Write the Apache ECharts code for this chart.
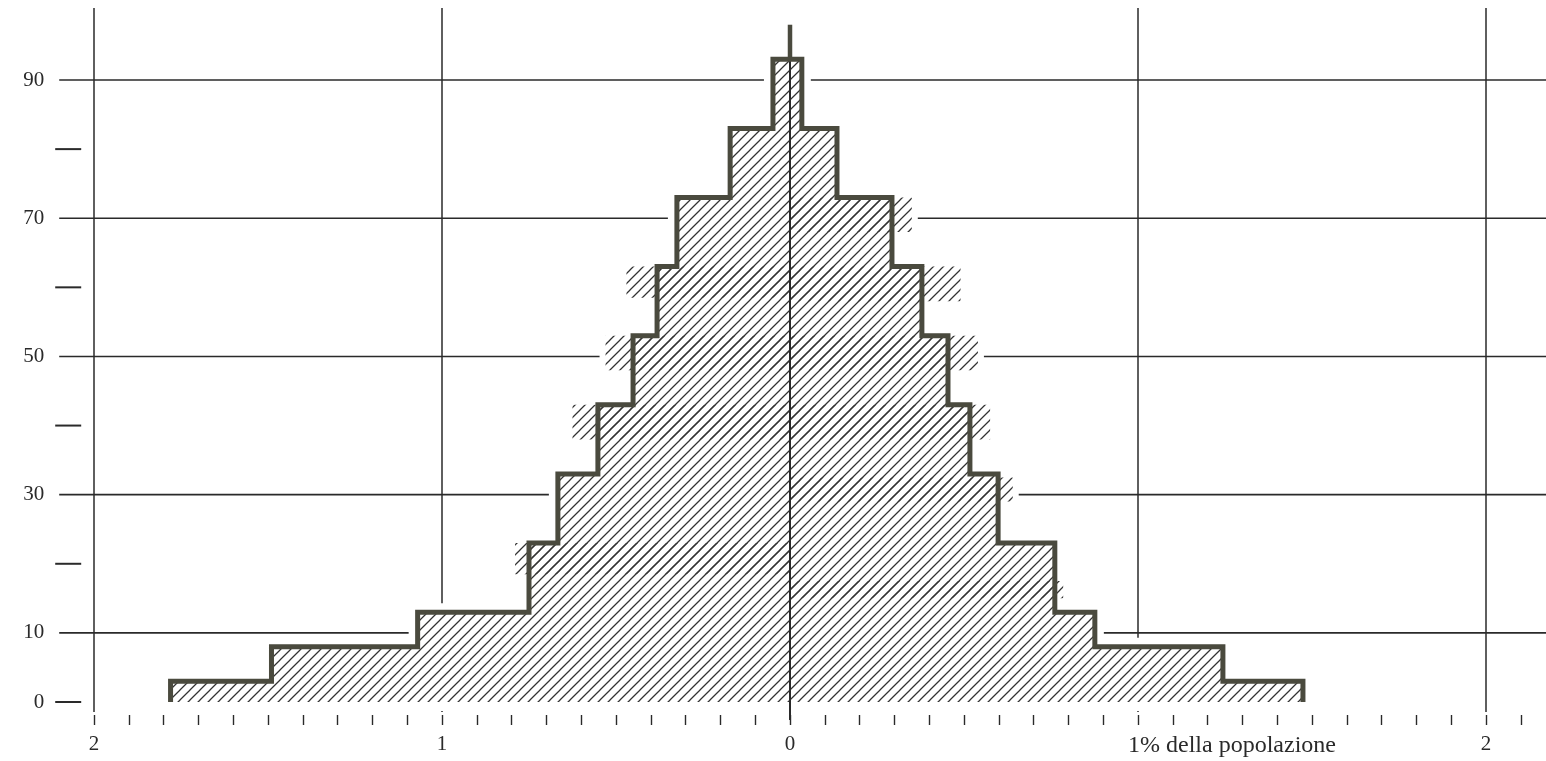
<!DOCTYPE html>
<html><head><meta charset="utf-8">
<script src="https://cdn.jsdelivr.net/npm/echarts@6/dist/echarts.min.js"></script>
<style>html,body{margin:0;padding:0;background:#fff}#c{width:1546px;height:761px}</style>
</head><body><div id="c"></div>
<script>
// Age band boundaries (years)
const ageEdges = [0, 3, 8, 13, 23, 33, 43, 53, 63, 73, 83, 93];
// Percent of population in each band, left and right of the centre
const leftPct  = [1.78, 1.49, 1.07, 0.75, 0.667, 0.552, 0.451, 0.382, 0.325, 0.172, 0.049];
const rightPct = [1.474, 1.244, 0.876, 0.761, 0.598, 0.517, 0.454, 0.379, 0.293, 0.135, 0.034];
// Age reached by the central spike
const spikeTop = 98;
// Extra hatched excess beyond the stepped outline
const leftExcessFrom  = [18.5, 38, 48, 58.5];
const leftExcessTo    = [23, 43, 53, 63];
const leftExcessPct   = [0.79, 0.625, 0.53, 0.47];
const rightExcessFrom = [15, 29, 38, 48, 58, 68];
const rightExcessTo   = [17.5, 32.5, 43, 53, 63, 73];
const rightExcessPct  = [0.785, 0.64, 0.575, 0.54, 0.49, 0.35];
// Axes
const yLabelValues = [0, 10, 30, 50, 70, 90];
const yDashValues  = [0, 20, 40, 60, 80];
const gridAges     = [10, 30, 50, 70, 90];
const gridPcts     = [-2, -1, 1, 2];
const xLabelValues = [-2, -1, 0, 1, 2];
const xLabelTexts  = ['2', '1', '0', '1% della popolazione', '2'];

const INK = '#2a2a2a';
const OUTLINE = '#4a4a3e';
const SERIF = '"Liberation Serif", "DejaVu Serif", serif';

function makeHatch() {
  const c = document.createElement('canvas');
  c.width = 10; c.height = 10;
  const g = c.getContext('2d');
  g.strokeStyle = '#333333';
  g.lineWidth = 1.25;
  g.beginPath();
  g.moveTo(-2, 12); g.lineTo(12, -2);
  g.moveTo(-7, 7); g.lineTo(7, -7);
  g.moveTo(3, 17); g.lineTo(17, 3);
  g.stroke();
  return c;
}
const hatch = { image: makeHatch(), repeat: 'repeat' };

function outlinePoints(api) {
  const pts = [];
  const n = leftPct.length;
  pts.push(api.coord([-leftPct[0], ageEdges[0]]));
  for (let i = 0; i < n; i++) {
    pts.push(api.coord([-leftPct[i], ageEdges[i + 1]]));
    if (i + 1 < n) pts.push(api.coord([-leftPct[i + 1], ageEdges[i + 1]]));
  }
  pts.push(api.coord([rightPct[n - 1], ageEdges[n]]));
  for (let i = n - 1; i >= 0; i--) {
    pts.push(api.coord([rightPct[i], ageEdges[i]]));
    if (i > 0) pts.push(api.coord([rightPct[i - 1], ageEdges[i]]));
  }
  return pts;
}
function excessRects(api) {
  const rects = [];
  const mk = (x0, x1, a0, a1) => {
    const p0 = api.coord([x0, a1]);
    const p1 = api.coord([x1, a0]);
    return { x: Math.min(p0[0], p1[0]), y: Math.min(p0[1], p1[1]),
             width: Math.abs(p1[0] - p0[0]), height: Math.abs(p1[1] - p0[1]) };
  };
  for (let i = 0; i < leftExcessPct.length; i++)
    rects.push(mk(-leftExcessPct[i], 0, leftExcessFrom[i], leftExcessTo[i]));
  for (let i = 0; i < rightExcessPct.length; i++)
    rects.push(mk(0, rightExcessPct[i], rightExcessFrom[i], rightExcessTo[i]));
  return rects;
}

const chart = echarts.init(document.getElementById('c'), null, { renderer: 'canvas' });
const scale = 348; // px per 1 %
const zeroX = 790;
const option = {
  animation: false,
  backgroundColor: '#fff',
  grid: [
    { left: zeroX - 2.1 * scale, right: 1546 - (zeroX + 2.2 * scale), top: 702 - 100 * 6.911, bottom: 59, containLabel: false, outerBoundsMode: 'none' },
    { left: zeroX - 2.0 * scale, width: 4.1 * scale, top: 702 - 100 * 6.911, bottom: 46, containLabel: false, outerBoundsMode: 'none' }
  ],
  xAxis: [
    { type: 'value', gridIndex: 0, min: -2.1, max: 2.2, show: false },
    {
      type: 'value', gridIndex: 1, min: -2, max: 2.1, interval: 0.1, position: 'bottom',
      axisLine: { show: false },
      axisTick: { show: true, inside: false, length: 10, lineStyle: { color: INK, width: 1.4 } },
      splitLine: { show: false },
      axisLabel: {
        margin: 19, color: INK, fontFamily: SERIF, fontSize: 21,
        formatter: function (v) {
          const r = Math.round(v * 10) / 10;
          const i = xLabelValues.indexOf(r);
          if (i < 0) return '';
          const t = xLabelTexts[i];
          if (t.length > 2) return '{pad|}{t|' + t + '}';
          return t;
        },
        rich: {
          pad: { width: 188 },
          t: { fontFamily: SERIF, fontSize: 24, color: INK }
        }
      }
    }
  ],
  yAxis: [
    {
      type: 'value', gridIndex: 0, min: 0, max: 100, interval: 10,
      axisLine: { show: false }, axisTick: { show: false }, splitLine: { show: false },
      axisLabel: {
        margin: 15, color: INK, fontFamily: SERIF, fontSize: 21,
        formatter: v => yLabelValues.indexOf(v) >= 0 ? String(v) : ''
      }
    },
    { type: 'value', gridIndex: 1, min: 0, max: 100, show: false }
  ],
  series: [
    {
      type: 'custom', name: 'grid', z: 1, silent: true, data: [0],
      renderItem: function (params, api) {
        const cs = params.coordSys;
        const children = [];
        gridAges.forEach(a => {
          const y = api.coord([0, a])[1];
          children.push({ type: 'line', shape: { x1: cs.x, y1: y, x2: cs.x + cs.width, y2: y },
            style: { stroke: INK, lineWidth: 1.6 } });
        });
        gridPcts.forEach(p => {
          const x = api.coord([p, 0])[0];
          const yb = api.coord([p, 0])[1];
          children.push({ type: 'line', shape: { x1: x, y1: cs.y - 3, x2: x, y2: yb + 10 },
            style: { stroke: INK, lineWidth: 1.5 } });
        });
        yDashValues.forEach(a => {
          const y = api.coord([0, a])[1];
          children.push({ type: 'line', shape: { x1: cs.x - 4, y1: y, x2: cs.x + 22, y2: y },
            style: { stroke: INK, lineWidth: 2 } });
        });
        return { type: 'group', children };
      }
    },
    {
      type: 'custom', name: 'halo', z: 2, silent: true, data: [0],
      renderItem: function (params, api) {
        const children = [{ type: 'polygon', shape: { points: outlinePoints(api) },
          style: { fill: '#fff', stroke: '#fff', lineWidth: 18, lineJoin: 'miter' } }];
        excessRects(api).forEach(r => children.push({ type: 'rect', shape: r,
          style: { fill: '#fff', stroke: '#fff', lineWidth: 12 } }));
        return { type: 'group', children };
      }
    },
    {
      type: 'custom', name: 'hatch', z: 3, silent: true, data: [0],
      renderItem: function (params, api) {
        const children = [{ type: 'polygon', shape: { points: outlinePoints(api) },
          style: { fill: hatch } }];
        excessRects(api).forEach(r => children.push({ type: 'rect', shape: r, style: { fill: hatch } }));
        return { type: 'group', children };
      }
    },
    {
      type: 'custom', name: 'outline', z: 4, silent: true, data: [0],
      renderItem: function (params, api) {
        const n = ageEdges.length - 1;
        const base = api.coord([0, 0]);
        const top = api.coord([0, ageEdges[n]]);
        const spike = api.coord([0, spikeTop]);
        return { type: 'group', children: [
          { type: 'line', shape: { x1: base[0], y1: base[1] + 18, x2: top[0], y2: top[1] },
            style: { stroke: INK, lineWidth: 2 } },
          { type: 'line', shape: { x1: top[0], y1: top[1], x2: spike[0], y2: spike[1] },
            style: { stroke: OUTLINE, lineWidth: 4.5 } },
          { type: 'polyline', shape: { points: outlinePoints(api) },
            style: { fill: null, stroke: OUTLINE, lineWidth: 5, lineJoin: 'miter', lineCap: 'butt' } }
        ] };
      }
    }
  ]
};
chart.setOption(option);
</script>
</body></html>
